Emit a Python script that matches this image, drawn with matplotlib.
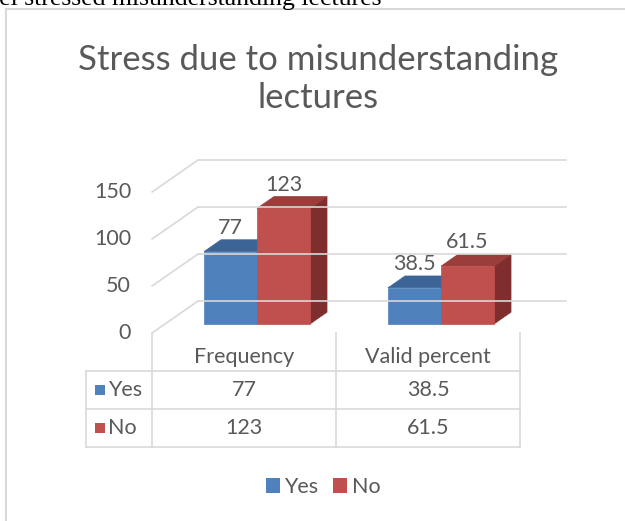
import matplotlib
matplotlib.use("Agg")
import matplotlib.pyplot as plt
from matplotlib.patches import Polygon, Rectangle
from matplotlib.lines import Line2D
from matplotlib.transforms import IdentityTransform

# data
categories = ["Frequency", "Valid percent"]
series = ["Yes", "No"]
yes_values = [77, 38.5]
no_values = [123, 61.5]
yticks = [0, 50, 100, 150]
title = "Stress due to misunderstanding\nlectures"

FONT = "Lato"
TXT = "#595959"
GRID = "#D9D9D9"
FRONT = {"Yes": "#4F81BD", "No": "#C0504D"}
TOP = {"Yes": "#3D6496", "No": "#9A3D3B"}
SIDE = {"Yes": "#345580", "No": "#7E2F2D"}

W, H = 625, 521
fig = plt.figure(figsize=(W / 100, H / 100), dpi=100)
fig.patch.set_facecolor("white")

# plane of the bar fronts; depth is faked with a fixed pixel offset
ax = fig.add_axes([165 / W, (H - 324) / H, (533 - 165) / W, 141 / H])
ax.set_xlim(-0.5, 1.5)
ax.set_ylim(0, 150)
ax.axis("off")

DX, DY = 46, 32   # full floor depth in pixels
D0 = 0.28         # depth of the bar fronts
DB = 0.65         # depth of the bar backs
ID = IdentityTransform()


def proj(x, v, d):
    px, py = ax.transData.transform((x, v))
    return px + (d - D0) * DX, py + (d - D0) * DY


def pix(px, py):
    # layout position given from the top-left corner
    return px, H - py


def line(p, q, **kw):
    fig.add_artist(Line2D([p[0], q[0]], [p[1], q[1]], transform=ID, **kw))


def poly(pts, color):
    fig.add_artist(Polygon(pts, closed=True, facecolor=color, edgecolor=color,
                           lw=0.5, transform=ID))


# chart box border (runs off the page)
line(pix(6, 9), pix(6, H + 5), color=GRID, lw=1.5)
line(pix(6, 9), pix(W + 5, 9), color=GRID, lw=1.5)

# text of the page above the chart, cut off
fig.text(-21, H - 5, "feel stressed misunderstanding lectures", transform=ID,
         family="Liberation Serif", fontsize=18.5, color="black", va="baseline")

# walls and gridlines
for v in yticks:
    line(proj(-0.5, v, 0), proj(-0.5, v, 1), color=GRID, lw=1.2)
    line(proj(-0.5, v, 1), proj(1.5, v, 1), color=GRID, lw=1.2)
    x0, y0 = proj(-0.5, v, 0)
    fig.text(x0 - 21, y0, str(v), transform=ID, ha="right", va="center",
             family=FONT, fontsize=15.5, color=TXT)

# bars
bw = 0.288
for i, (name, vals) in enumerate(zip(series, [yes_values, no_values])):
    for j, v in enumerate(vals):
        a = j + (i - 1) * bw
        b = a + bw
        poly([proj(b, 0, D0), proj(b, 0, DB), proj(b, v, DB), proj(b, v, D0)], SIDE[name])
        poly([proj(a, v, D0), proj(b, v, D0), proj(b, v, DB), proj(a, v, DB)], TOP[name])
        poly([proj(a, 0, D0), proj(b, 0, D0), proj(b, v, D0), proj(a, v, D0)], FRONT[name])
        lx = proj((a + b) / 2, v, D0)[0]
        ly = proj((a + b) / 2, v, DB)[1]
        fig.text(lx, ly + 6, f"{v:g}", transform=ID, ha="center", va="baseline",
                 family=FONT, fontsize=15.5, color=TXT)

# data table under the axis
fx, fy = proj(-0.5, 0, 0)
rh = 38
left = fx - 66
bottom = fy - 3 * rh
for bnd in [-0.5, 0.5, 1.5]:
    bx, by = proj(bnd, 0, 0)
    line((bx, by), (bx, bottom), color=GRID, lw=1.2)
for r in [1, 2, 3]:
    rx1 = proj(1.5, 0, 0)[0]
    line((left, fy - r * rh), (rx1, fy - r * rh), color=GRID, lw=1.2)
line((left, fy - rh), (left, bottom), color=GRID, lw=1.2)

for j, cat in enumerate(categories):
    cx = proj(j, 0, 0)[0]
    fig.text(cx, fy - rh / 2 - 5, cat, transform=ID, ha="center", va="center",
             family=FONT, fontsize=15.5, color=TXT)
    for r, vals in enumerate([yes_values, no_values]):
        fig.text(cx, fy - (r + 1.5) * rh, f"{vals[j]:g}", transform=ID,
                 ha="center", va="center", family=FONT, fontsize=15.5, color=TXT)

for r, name in enumerate(series):
    cy = fy - (r + 1.5) * rh
    fig.add_artist(Rectangle((left + 9, cy - 5), 10, 10, facecolor=FRONT[name],
                             edgecolor="none", transform=ID))
    fig.text(left + 22, cy, name, transform=ID, ha="left", va="center",
             family=FONT, fontsize=15.5, color=TXT)

# title
fig.text(318 / W, 1 - 44 / H, title, ha="center", va="top", family=FONT,
         fontsize=25, color=TXT, linespacing=1.22)

# legend
handles = [Rectangle((0, 0), 1, 1, facecolor=FRONT[s], edgecolor="none") for s in series]
leg = fig.legend(handles, series, loc="center", bbox_to_anchor=(323 / W, 1 - 487 / H),
                 ncol=2, frameon=False, handlelength=0.65, handleheight=0.65,
                 handletextpad=0.2, columnspacing=0.7,
                 prop={"family": FONT, "size": 15.5})
for t in leg.get_texts():
    t.set_color(TXT)

fig.savefig("out.png", dpi=100, facecolor="white")
